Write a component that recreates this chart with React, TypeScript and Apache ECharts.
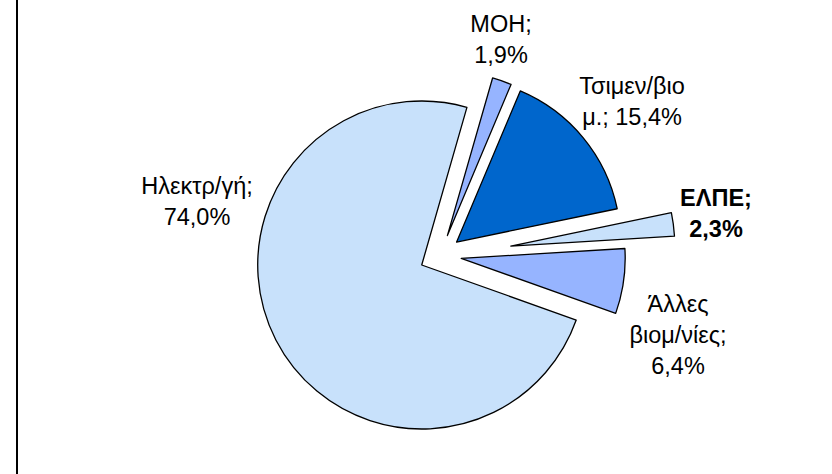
import { useEffect, useRef } from 'react';
import * as echarts from 'echarts';

// ---- data ----
const categories = ['ΜΟΗ', 'Τσιμεν/βιομ.', 'ΕΛΠΕ', 'Άλλες βιομ/νίες', 'Ηλεκτρ/γή'];
const shares = [1.9, 15.4, 2.3, 6.4, 74.0];
const labelTemplates = [
  'ΜΟΗ;\n{v}',
  'Τσιμεν/βιο\nμ.; {v}',
  'ΕΛΠΕ;\n{v}',
  'Άλλες\nβιομ/νίες;\n{v}',
  'Ηλεκτρ/γή;\n{v}',
];

// ---- styles / layout ----
const COLORS = ['#96B4FF', '#0066CC', '#C8E1FB', '#96B4FF', '#C8E1FB'];
const EXPLODE = [21, 21, 71, 21, 21];
const BOLD = [false, false, true, false, false];
const LABEL_POS: [number, number][] = [
  [501, 39],
  [632, 101],
  [716, 213],
  [678, 335],
  [197, 201],
];
const PIE_CENTER: [number, number] = [440.4, 255.4];
const RADIUS = 164;
const START_CW_FROM_TOP = 16; // degrees clockwise from 12 o'clock

function fmtPct(v: number) {
  return v.toFixed(1).replace('.', ',') + '%';
}

export default function App() {
  const ref = useRef<HTMLDivElement>(null);
  useEffect(() => {
    if (!ref.current) return;
    const chart = echarts.init(ref.current, undefined, { renderer: 'svg' });
    const total = shares.reduce((a, b) => a + b, 0);
    let cum = 0;
    const mids = shares.map((v) => {
      const m = START_CW_FROM_TOP + ((cum + v / 2) / total) * 360;
      cum += v;
      return m;
    });
    const series = shares.map((_, i) => {
      const rad = (mids[i] * Math.PI) / 180;
      const cx = PIE_CENTER[0] + EXPLODE[i] * Math.sin(rad);
      const cy = PIE_CENTER[1] - EXPLODE[i] * Math.cos(rad);
      return {
        type: 'pie',
        radius: RADIUS,
        center: [cx, cy],
        startAngle: 90 - START_CW_FROM_TOP,
        clockwise: true,
        avoidLabelOverlap: false,
        silent: true,
        emphasis: { disabled: true },
        data: shares.map((v, j) => ({
          name: categories[j],
          value: v,
          itemStyle:
            j === i
              ? { color: COLORS[j], borderColor: '#000', borderWidth: 1.3 }
              : { color: 'rgba(0,0,0,0)', borderWidth: 0 },
          label: { show: j === i },
        })),
        label: {
          position: 'outside',
          formatter: (p: any) =>
            labelTemplates[p.dataIndex].replace('{v}', fmtPct(shares[p.dataIndex])),
          fontFamily: 'Liberation Sans, Arial, sans-serif',
          fontSize: 23.5,
          lineHeight: 31,
          color: '#000',
          fontWeight: BOLD[i] ? 'bold' : 'normal',
        },
        labelLine: { show: false },
        labelLayout: (p: any) =>
          p.dataIndex === i
            ? { x: LABEL_POS[i][0], y: LABEL_POS[i][1], align: 'center', verticalAlign: 'middle' }
            : {},
      };
    });
    chart.setOption({
      animation: false,
      backgroundColor: '#fff',
      graphic: [
        {
          type: 'line',
          shape: { x1: 17, y1: 0, x2: 17, y2: 474 },
          style: { stroke: '#000', lineWidth: 2 },
        },
      ],
      series,
    } as any);
    return () => chart.dispose();
  }, []);
  return (
    <div
      ref={ref}
      style={{ position: 'fixed', left: 0, top: 0, width: 832, height: 474 }}
    />
  );
}
